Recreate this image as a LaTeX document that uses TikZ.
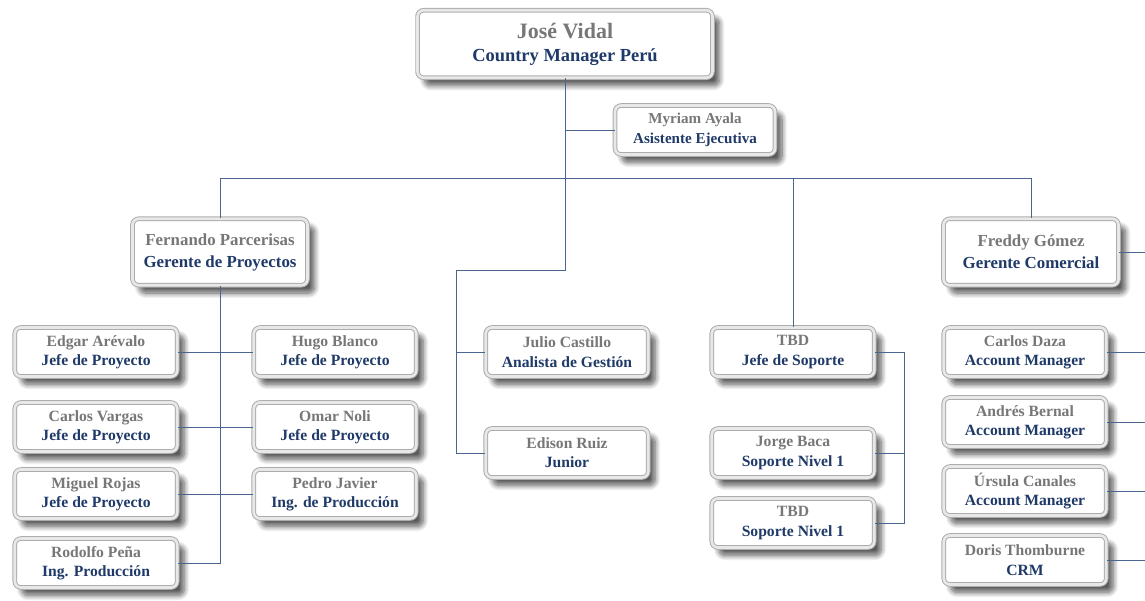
\documentclass[tikz,border=0pt]{standalone}
\usepackage{fontspec}
\setmainfont{Liberation Serif}
\usetikzlibrary{shadows.blur}
\definecolor{namegray}{HTML}{777777}
\definecolor{titleblue}{HTML}{1F3A68}
\definecolor{linecol}{HTML}{4A6590}
\tikzset{
  card/.style={rounded corners=3.5pt, draw=gray!65, line width=0.55pt, double=gray!18, double distance=1.5pt,
    fill=white, align=center, inner sep=1pt,
    blur shadow={shadow xshift=4pt, shadow yshift=-4.5pt, shadow blur steps=10, shadow blur radius=3pt, shadow opacity=65}},
  small/.style={card, minimum width=3.25cm, minimum height=0.98cm, font=\bfseries\fontsize{8.9}{11}\selectfont},
  mid/.style={card, minimum width=3.5cm, minimum height=1.33cm, font=\bfseries\fontsize{9.6}{12.5}\selectfont},
  big/.style={card, minimum width=5.9cm, minimum height=1.35cm},
  conn/.style={draw=linecol, line width=0.5pt},
}
\newcommand{\nm}[2]{\textcolor{namegray}{#1}\\\textcolor{titleblue}{#2}}
\begin{document}
\begin{tikzpicture}[x=0.02cm,y=-0.02cm]
\useasboundingbox (0,0) rectangle (1145,601);
\coordinate (bar) at (565,178);
\coordinate (j1) at (565,270);
\coordinate (j2) at (456,270);
\coordinate (sv) at (904,0);
\coordinate (edge) at (1145,0);

\node[big, font=\bfseries] (jose) at (565,44) {\textcolor{namegray}{\fontsize{12.5}{14}\selectfont José Vidal}\\[1pt]\textcolor{titleblue}{\fontsize{10.5}{13}\selectfont Country Manager Perú}};
\node[small, minimum width=3.2cm, font=\bfseries\fontsize{8.6}{11}\selectfont] (myriam) at (695,130) {\nm{Myriam Ayala}{Asistente Ejecutiva}};
\node[mid] (fernando) at (220,252) {\nm{Fernando Parcerisas}{Gerente de Proyectos}};
\node[mid] (freddy) at (1031,252) {\nm{Freddy Gómez}{Gerente Comercial}};

\node[small] (edgar) at (96,352) {\nm{Edgar Arévalo}{Jefe de Proyecto}};
\node[small] (cvargas) at (96,427) {\nm{Carlos Vargas}{Jefe de Proyecto}};
\node[small] (miguel) at (96,494) {\nm{Miguel Rojas}{Jefe de Proyecto}};
\node[small] (rodolfo) at (96,563) {\nm{Rodolfo Peña}{Ing. Producción}};

\node[small] (hugo) at (335,352) {\nm{Hugo Blanco}{Jefe de Proyecto}};
\node[small] (omar) at (335,427) {\nm{Omar Noli}{Jefe de Proyecto}};
\node[small] (pedro) at (335,494) {\nm{Pedro Javier}{Ing. de Producción}};

\node[small] (julio) at (567,352) {\nm{Julio Castillo}{Analista de Gestión}};
\node[small] (edison) at (567,453) {\nm{Edison Ruiz}{Junior}};

\node[small] (tbda) at (793,352) {\nm{TBD}{Jefe de Soporte}};
\node[small] (jorge) at (793,453) {\nm{Jorge Baca}{Soporte Nivel 1}};
\node[small] (tbdb) at (793,523) {\nm{TBD}{Soporte Nivel 1}};

\node[small] (daza) at (1025,352) {\nm{Carlos Daza}{Account Manager}};
\node[small] (bernal) at (1025,422) {\nm{Andrés Bernal}{Account Manager}};
\node[small] (ursula) at (1025,491) {\nm{Úrsula Canales}{Account Manager}};
\node[small] (doris) at (1025,560) {\nm{Doris Thomburne}{CRM}};

% connectors
\draw[conn] (jose.south) -- (j1) -- (j2) |- (edison.west);
\draw[conn] (j2) |- (julio.west);
\draw[conn] (jose.south |- myriam.west) -- (myriam.west);
\draw[conn] (fernando.north) -- (fernando.north |- bar) -- (freddy.north |- bar) -- (freddy.north);
\draw[conn] (tbda.north |- bar) -- (tbda.north);
\draw[conn] (fernando.south) -- (fernando.south |- rodolfo.east) -- (rodolfo.east);
\draw[conn] (edgar.east) -- (hugo.west);
\draw[conn] (cvargas.east) -- (omar.west);
\draw[conn] (miguel.east) -- (pedro.west);
\draw[conn] (tbda.east) -- (tbda.east -| sv) -- (tbdb.east -| sv) -- (tbdb.east);
\draw[conn] (jorge.east) -- (jorge.east -| sv);
\draw[conn] (freddy.east) -- (freddy.east -| edge);
\draw[conn] (daza.east) -- (daza.east -| edge);
\draw[conn] (bernal.east) -- (bernal.east -| edge);
\draw[conn] (ursula.east) -- (ursula.east -| edge);
\draw[conn] (doris.east) -- (doris.east -| edge);
\end{tikzpicture}
\end{document}
